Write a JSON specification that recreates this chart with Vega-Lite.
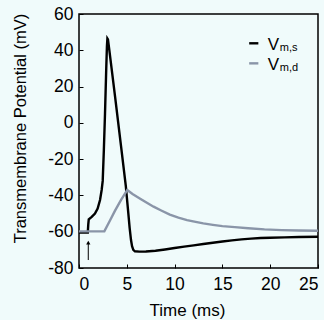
{
  "$schema": "https://vega.github.io/schema/vega-lite/v6.json",
  "autosize": {"type": "none"},
  "width": 239,
  "height": 254,
  "padding": {"left": 79, "top": 14, "right": 6, "bottom": 52},
  "background": "#f0fbfb",
  "config": {
    "view": {"stroke": "#000000", "strokeWidth": 1.5, "fill": "#f0fbfb"},
    "font": "Liberation Sans",
    "axis": {
      "domain": false,
      "grid": false,
      "tickSize": -4,
      "tickColor": "#000000",
      "tickWidth": 1,
      "labelColor": "#000000",
      "labelFont": "Liberation Sans",
      "labelFontSize": 17.5,
      "labelOverlap": false,
      "labelExpr": "datum.value + ''",
      "titleFont": "Liberation Sans",
      "titleFontSize": 16.5,
      "titleFontWeight": "normal",
      "titleColor": "#000000"
    },
    "axisX": {"tickCount": 6},
    "axisY": {"tickCount": 8}
  },
  "datasets": {
    "curves": [
      {"t": 0, "v": -60.4, "s": "s"},
      {"t": 0.92, "v": -60.4, "s": "s"},
      {"t": 0.97, "v": -56, "s": "s"},
      {"t": 1.02, "v": -53.2, "s": "s"},
      {"t": 1.33, "v": -51.8, "s": "s"},
      {"t": 1.67, "v": -50, "s": "s"},
      {"t": 1.95, "v": -47.2, "s": "s"},
      {"t": 2.2, "v": -42.5, "s": "s"},
      {"t": 2.37, "v": -37, "s": "s"},
      {"t": 2.48, "v": -32, "s": "s"},
      {"t": 2.6, "v": -15, "s": "s"},
      {"t": 2.72, "v": 5, "s": "s"},
      {"t": 2.85, "v": 30, "s": "s"},
      {"t": 2.92, "v": 42, "s": "s"},
      {"t": 2.97, "v": 46.5, "s": "s"},
      {"t": 3.03, "v": 46, "s": "s"},
      {"t": 3.15, "v": 41, "s": "s"},
      {"t": 3.77, "v": 14.6, "s": "s"},
      {"t": 4.4, "v": -13, "s": "s"},
      {"t": 4.9, "v": -35, "s": "s"},
      {"t": 5.16, "v": -49.9, "s": "s"},
      {"t": 5.3, "v": -58, "s": "s"},
      {"t": 5.44, "v": -64.6, "s": "s"},
      {"t": 5.55, "v": -68, "s": "s"},
      {"t": 5.68, "v": -70, "s": "s"},
      {"t": 5.85, "v": -70.8, "s": "s"},
      {"t": 6.3, "v": -71, "s": "s"},
      {"t": 7, "v": -70.9, "s": "s"},
      {"t": 8, "v": -70.5, "s": "s"},
      {"t": 9, "v": -69.8, "s": "s"},
      {"t": 10, "v": -69, "s": "s"},
      {"t": 11, "v": -68.2, "s": "s"},
      {"t": 12, "v": -67.5, "s": "s"},
      {"t": 13, "v": -66.8, "s": "s"},
      {"t": 14, "v": -66.1, "s": "s"},
      {"t": 15, "v": -65.4, "s": "s"},
      {"t": 16, "v": -64.8, "s": "s"},
      {"t": 17, "v": -64.2, "s": "s"},
      {"t": 18, "v": -63.8, "s": "s"},
      {"t": 19, "v": -63.5, "s": "s"},
      {"t": 20, "v": -63.3, "s": "s"},
      {"t": 21.5, "v": -63.1, "s": "s"},
      {"t": 23, "v": -62.9, "s": "s"},
      {"t": 25, "v": -62.8, "s": "s"},
      {"t": 0, "v": -59.8, "s": "d"},
      {"t": 2.65, "v": -59.8, "s": "d"},
      {"t": 3.2, "v": -54.2, "s": "d"},
      {"t": 3.77, "v": -48.4, "s": "d"},
      {"t": 4.4, "v": -42.5, "s": "d"},
      {"t": 5.05, "v": -37, "s": "d"},
      {"t": 5.6, "v": -39.2, "s": "d"},
      {"t": 6.4, "v": -41.8, "s": "d"},
      {"t": 7.1, "v": -44, "s": "d"},
      {"t": 7.8, "v": -46.2, "s": "d"},
      {"t": 8.6, "v": -48.3, "s": "d"},
      {"t": 9.5, "v": -50.6, "s": "d"},
      {"t": 10.4, "v": -52.2, "s": "d"},
      {"t": 11.3, "v": -53.6, "s": "d"},
      {"t": 12.2, "v": -54.6, "s": "d"},
      {"t": 13, "v": -55.4, "s": "d"},
      {"t": 14, "v": -56.2, "s": "d"},
      {"t": 15, "v": -56.9, "s": "d"},
      {"t": 16.3, "v": -57.5, "s": "d"},
      {"t": 17.7, "v": -58.1, "s": "d"},
      {"t": 19.4, "v": -58.7, "s": "d"},
      {"t": 21.2, "v": -59.1, "s": "d"},
      {"t": 23, "v": -59.35, "s": "d"},
      {"t": 25, "v": -59.5, "s": "d"}
    ],
    "legend": [
      {"s": "s", "x1": 17.8, "x2": 18.76, "y": 43.85, "xv": 19.75, "xs": 21.0, "yb": 40.3, "sub": "m,s"},
      {"s": "d", "x1": 17.8, "x2": 18.76, "y": 32.8, "xv": 19.75, "xs": 21.0, "yb": 29.3, "sub": "m,d"}
    ],
    "arrow": [
      {"t": 0.97, "y1": -75.6, "y2": -66}
    ]
  },
  "layer": [
    {
      "data": {"name": "curves"},
      "mark": {"type": "line", "strokeWidth": 2.4, "interpolate": "linear"},
      "encoding": {
        "x": {"field": "t", "type": "quantitative", "scale": {"domain": [0, 25], "nice": false, "zero": false}, "axis": {"values": [0, 5, 10, 15, 20, 25], "title": "Time (ms)", "titleFontSize": 17, "labelPadding": 11, "titlePadding": 10, "titleX": 108}},
        "y": {"field": "v", "type": "quantitative", "scale": {"domain": [-80, 60], "nice": false, "zero": false}, "axis": {"values": [-80, -60, -40, -20, 0, 20, 40, 60], "title": "Transmembrane Potential (mV)", "labelPadding": 10, "titlePadding": 19, "titleY": 114}},
        "color": {"field": "s", "type": "nominal", "scale": {"domain": ["s", "d"], "range": ["#000000", "#8a95a8"]}, "legend": null},
        "detail": {"field": "s"}
      }
    },
    {
      "data": {"name": "legend"},
      "mark": {"type": "rule", "strokeWidth": 2.4},
      "encoding": {
        "x": {"field": "x1", "type": "quantitative", "axis": {"values": [0, 5, 10, 15, 20, 25], "title": "Time (ms)", "titleFontSize": 17, "labelPadding": 11, "titlePadding": 10, "titleX": 108}},
        "x2": {"field": "x2"},
        "y": {"field": "y", "type": "quantitative", "axis": {"values": [-80, -60, -40, -20, 0, 20, 40, 60], "title": "Transmembrane Potential (mV)", "labelPadding": 10, "titlePadding": 19, "titleY": 114}},
        "color": {"field": "s", "type": "nominal", "legend": null}
      }
    },
    {
      "data": {"name": "legend"},
      "mark": {"type": "text", "text": "V", "align": "left", "baseline": "alphabetic", "fontSize": 17, "color": "#000000"},
      "encoding": {
        "x": {"field": "xv", "type": "quantitative", "axis": {"values": [0, 5, 10, 15, 20, 25], "title": "Time (ms)", "titleFontSize": 17, "labelPadding": 11, "titlePadding": 10, "titleX": 108}},
        "y": {"field": "yb", "type": "quantitative", "axis": {"values": [-80, -60, -40, -20, 0, 20, 40, 60], "title": "Transmembrane Potential (mV)", "labelPadding": 10, "titlePadding": 19, "titleY": 114}}
      }
    },
    {
      "data": {"name": "legend"},
      "mark": {"type": "text", "align": "left", "baseline": "alphabetic", "fontSize": 11, "color": "#000000", "dy": 1},
      "encoding": {
        "x": {"field": "xs", "type": "quantitative", "axis": {"values": [0, 5, 10, 15, 20, 25], "title": "Time (ms)", "titleFontSize": 17, "labelPadding": 11, "titlePadding": 10, "titleX": 108}},
        "y": {"field": "yb", "type": "quantitative", "axis": {"values": [-80, -60, -40, -20, 0, 20, 40, 60], "title": "Transmembrane Potential (mV)", "labelPadding": 10, "titlePadding": 19, "titleY": 114}},
        "text": {"field": "sub"}
      }
    },
    {
      "data": {"name": "arrow"},
      "mark": {"type": "rule", "strokeWidth": 1, "color": "#000000"},
      "encoding": {
        "x": {"field": "t", "type": "quantitative", "axis": {"values": [0, 5, 10, 15, 20, 25], "title": "Time (ms)", "titleFontSize": 17, "labelPadding": 11, "titlePadding": 10, "titleX": 108}},
        "y": {"field": "y1", "type": "quantitative", "axis": {"values": [-80, -60, -40, -20, 0, 20, 40, 60], "title": "Transmembrane Potential (mV)", "labelPadding": 10, "titlePadding": 19, "titleY": 114}},
        "y2": {"field": "y2"}
      }
    },
    {
      "data": {"name": "arrow"},
      "mark": {"type": "point", "shape": "triangle-up", "filled": true, "size": 18, "color": "#000000", "opacity": 1},
      "encoding": {
        "x": {"field": "t", "type": "quantitative", "axis": {"values": [0, 5, 10, 15, 20, 25], "title": "Time (ms)", "titleFontSize": 17, "labelPadding": 11, "titlePadding": 10, "titleX": 108}},
        "y": {"field": "y2", "type": "quantitative", "axis": {"values": [-80, -60, -40, -20, 0, 20, 40, 60], "title": "Transmembrane Potential (mV)", "labelPadding": 10, "titlePadding": 19, "titleY": 114}}
      }
    }
  ]
}
